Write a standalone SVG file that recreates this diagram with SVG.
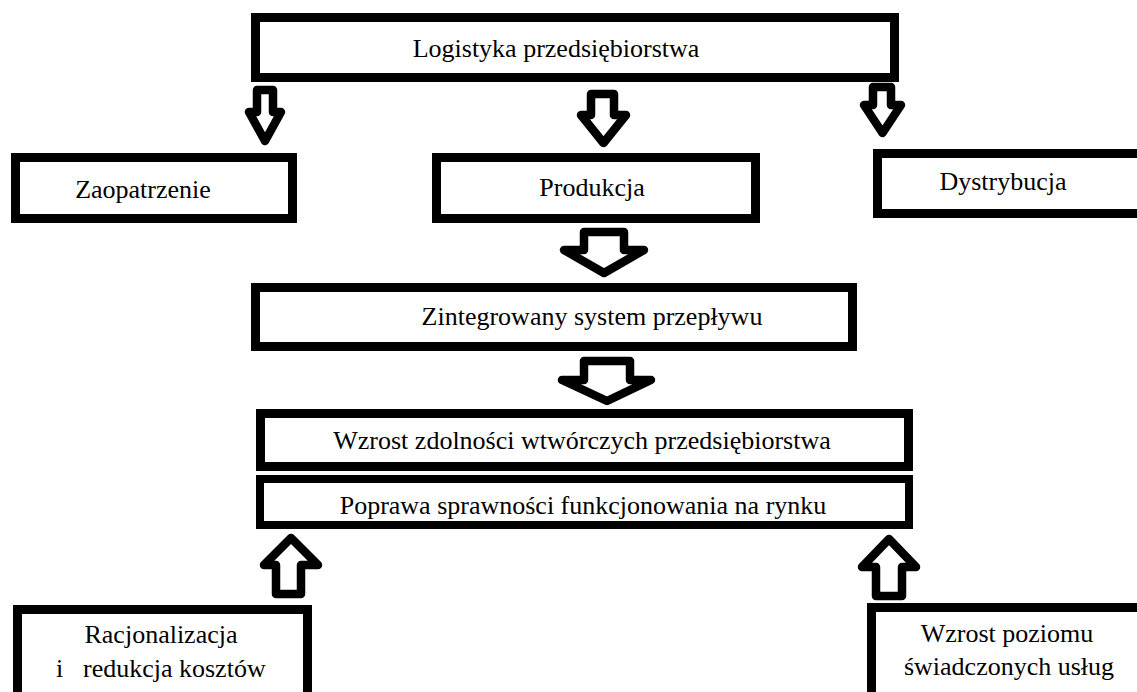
<svg xmlns="http://www.w3.org/2000/svg" width="1137" height="692" viewBox="0 0 1137 692">
<style>
.box{fill:#fff;stroke:#000;stroke-width:9}
.t{font-family:'Liberation Serif','Times New Roman',serif;font-size:26px;fill:#000;text-anchor:middle}
.arr{fill:#fff;stroke:#000;stroke-width:8.5;stroke-linejoin:round}
</style>
<rect width="1137" height="692" fill="#fff"/>
<g id="connectors">
<path class="arr" d="M257,90 L273,90 L273,112 L281,112 L265,141 L249,112 L257,112 Z"/>
<path class="arr" d="M591,94 L614,94 L614,115 L626,115 L603.5,143 L581,115 L591,115 Z"/>
<path class="arr" d="M873,87 L891,87 L891,105 L901,105 L882.5,133 L864,105 L873,105 Z"/>
<path class="arr" d="M584,232 L624,232 L624,250 L644,250 L604,273 L564,250 L584,250 Z"/>
<path class="arr" d="M584,361 L630,361 L630,380 L651,380 L607,401 L562,380 L584,380 Z"/>
<path class="arr" d="M276,594 L301,594 L301,565 L318,565 L291,538 L264,565 L276,565 Z"/>
<path class="arr" d="M876,596 L902,596 L902,567 L916,567 L889,539 L862,567 L876,567 Z"/>
</g>
<g id="logistyka">
<rect class="box" x="255.5" y="17.5" width="639" height="60"/>
<text class="t" x="556" y="57">Logistyka przedsiębiorstwa</text>
</g>
<g id="zaopatrzenie">
<rect class="box" x="15.5" y="157.5" width="277" height="61"/>
<text class="t" x="143" y="198">Zaopatrzenie</text>
</g>
<g id="produkcja">
<rect class="box" x="436.5" y="157.5" width="319" height="61"/>
<text class="t" x="592" y="196">Produkcja</text>
</g>
<g id="dystrybucja">
<rect class="box" x="877.5" y="153.5" width="280" height="60"/>
<text class="t" x="1003" y="190">Dystrybucja</text>
</g>
<g id="zintegrowany">
<rect class="box" x="255.5" y="287.5" width="597" height="59"/>
<text class="t" x="592" y="325">Zintegrowany system przepływu</text>
</g>
<g id="wzrost-zdolnosci">
<rect class="box" x="260.5" y="413.5" width="648" height="53"/>
<text class="t" x="582" y="449">Wzrost zdolności wtwórczych przedsiębiorstwa</text>
</g>
<g id="poprawa">
<text class="t" x="583" y="514">Poprawa sprawności funkcjonowania na rynku</text>
<rect x="260" y="479" width="649" height="46" fill="none" stroke="#000" stroke-width="8"/>
</g>
<g id="racjonalizacja">
<rect class="box" x="17.5" y="609.5" width="290" height="100"/>
<text class="t" x="161" y="643">Racjonalizacja</text>
<text class="t" style="text-anchor:start" y="677"><tspan x="56">i</tspan><tspan x="83">redukcja kosztów</tspan></text>
</g>
<g id="wzrost-poziomu">
<rect class="box" x="871.5" y="607.5" width="280" height="100"/>
<text class="t" x="1007" y="642">Wzrost poziomu</text>
<text class="t" x="1009" y="675">świadczonych usług</text>
</g>
</svg>
